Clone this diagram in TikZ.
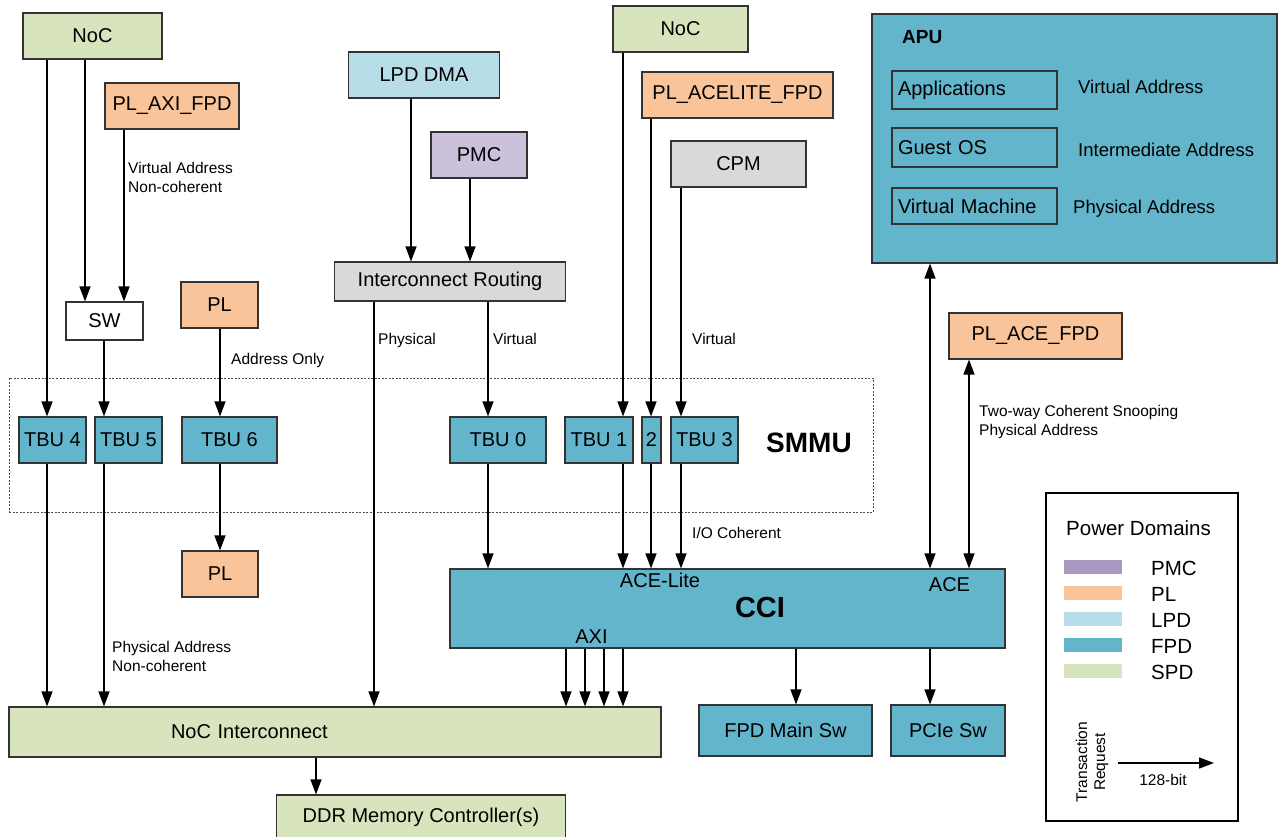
\documentclass[tikz,border=0pt]{standalone}
\usepackage{fontspec}
\setmainfont{Liberation Sans}
\usetikzlibrary{arrows.meta}
\definecolor{spd}{HTML}{D7E4BD}
\definecolor{plc}{HTML}{F9C49A}
\definecolor{lpdc}{HTML}{B7DEE8}
\definecolor{fpd}{HTML}{63B5CB}
\definecolor{pmcbox}{HTML}{CCC1DA}
\definecolor{pmcleg}{HTML}{A899C1}
\definecolor{grayc}{HTML}{D9D9D9}
\definecolor{bordc}{HTML}{333333}
\newcommand\myvarrow[4]{\draw[arr] ([xshift=#2pt]#1.south) -- ([xshift=#4pt]#3.north);}
\begin{document}
\begin{tikzpicture}[x=1pt,y=-1pt,
  box/.style={draw=bordc, line width=1.1pt, inner sep=0pt, font=\fontsize{20}{24}\selectfont},
  sz/.style 2 args={minimum width=#1, minimum height=#2},
  arr/.style={line width=1.2pt, -{Triangle[length=15pt,width=11pt]}},
  darr/.style={line width=1.2pt, {Triangle[length=15pt,width=11pt]}-{Triangle[length=15pt,width=11pt]}},
  lbl/.style={anchor=north west, inner sep=0pt, align=left, font=\fontsize{15.5}{19}\selectfont},
  apulbl/.style={anchor=north west, inner sep=0pt, font=\fontsize{18.5}{22}\selectfont},
  mid/.style={inner sep=0pt, font=\fontsize{20}{24}\selectfont},
  swatch/.style={inner sep=0pt, minimum width=58, minimum height=14},
  legtxt/.style={anchor=west, inner sep=0pt, font=\fontsize{20.5}{24}\selectfont}]
\useasboundingbox (0,0) rectangle (1278,837);

% top row
\node[box,fill=spd,sz={139}{46}] (noc1) at (92.5,36) {NoC};
\node[box,fill=plc,sz={134}{46}] (plaxi) at (172,106) {PL\_AXI\_FPD};
\node[box,fill=white,sz={77}{38}] (sw) at (104.5,321) {SW};
\node[box,fill=plc,sz={77}{46}] (pltop) at (219.5,305) {PL};
\node[box,fill=lpdc,sz={151}{46}] (lpd) at (424,75) {LPD DMA};
\node[box,fill=pmcbox,sz={96}{46}] (pmc) at (479,155) {PMC};
\node[box,fill=grayc,sz={231}{39}] (ir) at (450,281.5) {Interconnect Routing};
\node[box,fill=spd,sz={135}{46}] (noc2) at (680.5,29) {NoC};
\node[box,fill=plc,sz={191}{46}] (placelite) at (737.5,95) {PL\_ACELITE\_FPD};
\node[box,fill=grayc,sz={135}{46}] (cpm) at (738.5,164) {CPM};

% APU
\node[box,fill=fpd,sz={405}{249}] (apu) at (1074.5,138.5) {};
\node[inner sep=0pt, anchor=west, font=\fontsize{19}{22}\bfseries] (apuname) at (902,37) {APU};
\node[box,fill=fpd,sz={165}{38},text width=153,align=left] (apps) at (974.5,90) {Applications};
\node[box,fill=fpd,sz={165}{39},text width=153,align=left] (guest) at (974.5,147.5) {Guest OS};
\node[box,fill=fpd,sz={165}{36},text width=153,align=left] (vm) at (974.5,206) {Virtual Machine};
\node[apulbl] (vaddr) at (1078,80) {Virtual Address};
\node[apulbl] (iaddr) at (1078,143) {Intermediate Address};
\node[apulbl] (paddr) at (1073,200) {Physical Address};

\node[box,fill=plc,sz={173}{46}] (placefpd) at (1035.5,336) {PL\_ACE\_FPD};

% SMMU
\node[draw=black!70, line width=0.8pt, dash pattern=on 2pt off 1.5pt, sz={864}{134}, inner sep=0pt] (smmu) at (441,445) {};
\node[inner sep=0pt, font=\fontsize{28}{32}\bfseries] (smmulbl) at (809,443) {SMMU};
\node[box,fill=fpd,sz={67}{46}] (tbu4) at (52.5,440) {TBU 4};
\node[box,fill=fpd,sz={67}{46}] (tbu5) at (128.5,440) {TBU 5};
\node[box,fill=fpd,sz={95}{46}] (tbu6) at (229.5,440) {TBU 6};
\node[box,fill=fpd,sz={96}{46}] (tbu0) at (498,440) {TBU 0};
\node[box,fill=fpd,sz={68}{46}] (tbu1) at (599,440) {TBU 1};
\node[box,fill=fpd,sz={19}{46}] (tbu2) at (651.5,440) {2};
\node[box,fill=fpd,sz={67}{46}] (tbu3) at (704.5,440) {TBU 3};

\node[box,fill=plc,sz={76}{46}] (plbot) at (220,574) {PL};

% CCI
\node[box,fill=fpd,sz={555}{79}] (cci) at (727.5,608.5) {};
\node[inner sep=0pt, font=\fontsize{29}{32}\bfseries] (ccilbl) at (760,607.5) {CCI};
\node[mid] (acelite) at (660,580) {ACE-Lite};
\node[mid] (ace) at (949.5,585) {ACE};
\node[mid] (axi) at (591.5,636.5) {AXI};

% bottom
\node[box,fill=spd,sz={652}{50},text width=328,align=left] (nocic) at (335,732) {NoC Interconnect};
\node[box,fill=spd,sz={289}{44}] (ddr) at (421,817) {DDR Memory Controller(s)};
\node[box,fill=fpd,sz={173}{51}] (fpdmain) at (785.5,730.5) {FPD Main Sw};
\node[box,fill=fpd,sz={114}{51}] (pcie) at (948,730.5) {PCIe Sw};

% labels
\node[lbl] (l1) at (128,162) {Virtual Address\\Non-coherent};
\node[lbl] (l2) at (231,353) {Address Only};
\node[lbl] (l3) at (378,333) {Physical};
\node[lbl] (l4) at (493,333) {Virtual};
\node[lbl] (l5) at (692,333) {Virtual};
\node[lbl] (l6) at (112,641) {Physical Address\\Non-coherent};
\node[lbl] (l7) at (692,527) {I/O Coherent};
\node[lbl] (l8) at (979,405) {Two-way Coherent Snooping\\Physical Address};

% arrows
\myvarrow{noc1}{-45.5}{tbu4}{-5.5}
\myvarrow{noc1}{-7.5}{sw}{-19.5}
\myvarrow{plaxi}{-48}{sw}{19.5}
\myvarrow{sw}{-0.5}{tbu5}{-24.5}
\myvarrow{pltop}{0.5}{tbu6}{-9.5}
\myvarrow{tbu6}{-9.5}{plbot}{0}
\myvarrow{tbu4}{-5.5}{nocic}{-288}
\myvarrow{tbu5}{-24.5}{nocic}{-231}
\myvarrow{lpd}{-13}{ir}{-39}
\myvarrow{pmc}{-9}{ir}{20}
\myvarrow{ir}{-76}{nocic}{39}
\myvarrow{ir}{38}{tbu0}{-10}
\myvarrow{tbu0}{-10}{cci}{-239.5}
\myvarrow{noc2}{-57.5}{tbu1}{24}
\myvarrow{placelite}{-86.5}{tbu2}{-0.5}
\myvarrow{cpm}{-57.5}{tbu3}{-23.5}
\myvarrow{tbu1}{24}{cci}{-104.5}
\myvarrow{tbu2}{-0.5}{cci}{-76.5}
\myvarrow{tbu3}{-23.5}{cci}{-46.5}
\draw[darr] ([xshift=-144.5pt]apu.south) -- ([xshift=202.5pt]cci.north);
\draw[darr] ([xshift=-66.5pt]placefpd.south) -- ([xshift=241.5pt]cci.north);
\myvarrow{cci}{-161.5}{nocic}{231}
\myvarrow{cci}{-142.5}{nocic}{250}
\myvarrow{cci}{-123.5}{nocic}{269}
\myvarrow{cci}{-104.5}{nocic}{288}
\myvarrow{cci}{68.5}{fpdmain}{10.5}
\myvarrow{cci}{202.5}{pcie}{-18}
\myvarrow{nocic}{-19}{ddr}{-105}

% legend
\node[draw=black, line width=2pt, sz={192}{328}, inner sep=0pt] (legend) at (1142,657) {};
\node[legtxt] (pdom) at (1066,528) {Power Domains};
\node[swatch,fill=pmcleg] (s1) at (1093,567) {};
\node[swatch,fill=plc] (s2) at (1093,593) {};
\node[swatch,fill=lpdc] (s3) at (1093,619) {};
\node[swatch,fill=fpd] (s4) at (1093,645) {};
\node[swatch,fill=spd] (s5) at (1093,671) {};
\node[legtxt] (t1) at (1151,568) {PMC};
\node[legtxt] (t2) at (1151,594) {PL};
\node[legtxt] (t3) at (1151,620) {LPD};
\node[legtxt] (t4) at (1151,646) {FPD};
\node[legtxt] (t5) at (1151,672) {SPD};
\node[rotate=90, align=center, inner sep=0pt, font=\fontsize{15.5}{18}\selectfont] (treq) at (1092,762) {Transaction\\Request};
\coordinate (tra) at (1118,763);
\coordinate (trb) at (1214,763);
\draw[arr] (tra) -- (trb);
\node[inner sep=0pt, font=\fontsize{15.5}{18}\selectfont] (bits) at (1163,780) {128-bit};
\end{tikzpicture}
\end{document}
